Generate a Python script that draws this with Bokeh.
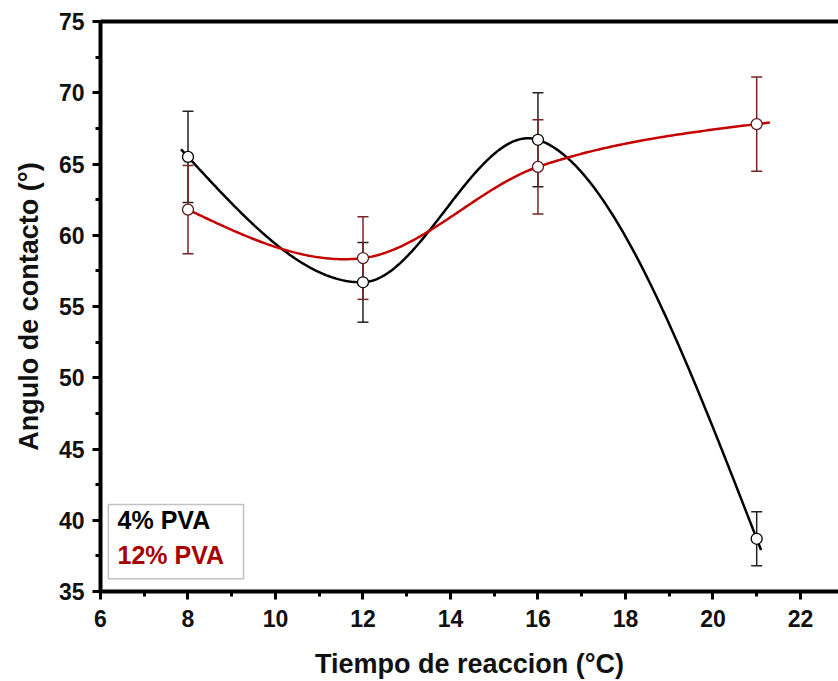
import numpy as np
from bokeh.plotting import figure
from bokeh.models import (Range1d, SingleIntervalTicker, FixedTicker, LinearAxis, Whisker,
                          ColumnDataSource, BoxAnnotation, Label, TeeHead)
from bokeh.embed import file_html
from bokeh.resources import INLINE

# ---- data ----
tiempo = [8, 12, 16, 21]
pva4 = [65.5, 56.7, 66.7, 38.7]
pva4_err = [3.2, 2.8, 3.3, 1.9]
pva12 = [61.8, 58.4, 64.8, 67.8]
pva12_err = [3.1, 2.9, 3.3, 3.3]
x_ticks_interval = 2
y_ticks_interval = 5
series_names = ["4% PVA", "12% PVA"]

FONT = "Liberation Sans"
RED_LINE = "#c40000"
RED_ERR = "#7a2525"
RED_TXT = "#a80000"


def smooth_curve(xs, ys, xe, tension=0.5):
    """Cardinal cubic Hermite curve through the data points."""
    xs = np.asarray(xs, float)
    ys = np.asarray(ys, float)
    n = len(xs)
    d = np.diff(ys) / np.diff(xs)
    m = np.zeros(n)
    for i in range(1, n - 1):
        m[i] = (1 - tension) * (ys[i + 1] - ys[i - 1]) / (xs[i + 1] - xs[i - 1])
    m[0] = 1.5 * d[0] - 0.5 * m[1]
    m[-1] = 1.5 * d[-1] - 0.5 * m[-2]
    xe = np.asarray(xe, float)
    out = np.empty_like(xe)
    for k, x in enumerate(xe):
        if x <= xs[0]:
            out[k] = ys[0] + m[0] * (x - xs[0])
            continue
        if x >= xs[-1]:
            out[k] = ys[-1] + m[-1] * (x - xs[-1])
            continue
        i = min(np.searchsorted(xs, x) - 1, n - 2)
        h = xs[i + 1] - xs[i]
        t = (x - xs[i]) / h
        h00 = 2 * t**3 - 3 * t**2 + 1
        h10 = t**3 - 2 * t**2 + t
        h01 = -2 * t**3 + 3 * t**2
        h11 = t**3 - t**2
        out[k] = h00 * ys[i] + h10 * h * m[i] + h01 * ys[i + 1] + h11 * h * m[i + 1]
    return out


p = figure(width=838, height=681, x_range=Range1d(6, 22.87), y_range=Range1d(35, 75),
           output_backend="svg", toolbar_location=None,
           min_border_left=100, min_border_right=0, min_border_top=21, min_border_bottom=90)
p.outline_line_color = None
p.grid.visible = False
p.background_fill_color = "white"
p.border_fill_color = "white"

# axes
for ax, interval in ((p.xaxis[0], x_ticks_interval), (p.yaxis[0], y_ticks_interval)):
    ax.ticker = SingleIntervalTicker(interval=interval, num_minor_ticks=2)
    ax.axis_line_width = 4
    ax.axis_line_color = "black"
    ax.major_tick_line_width = 3
    ax.major_tick_out = 8
    ax.major_tick_in = 0
    ax.minor_tick_line_width = 3
    ax.minor_tick_out = 5
    ax.minor_tick_in = 0
    ax.major_label_text_font = FONT
    ax.major_label_text_font_style = "bold"
    ax.major_label_text_font_size = "23px"
    ax.major_label_text_color = "#111111"
    ax.axis_label_text_font = FONT
    ax.axis_label_text_font_style = "bold"
    ax.axis_label_text_font_size = "27px"
    ax.axis_label_text_color = "#111111"

p.xaxis.axis_label = "Tiempo de reaccion (°C)"
p.yaxis.axis_label = "Angulo de contacto (°)"
p.xaxis.major_label_standoff = 10
p.xaxis.axis_label_standoff = 19
p.yaxis.major_label_standoff = 8
p.yaxis.axis_label_standoff = 12

top = LinearAxis(ticker=FixedTicker(ticks=[]), axis_line_width=4, axis_line_color="black",
                 major_tick_line_color=None, minor_tick_line_color=None,
                 major_label_text_font_size="0px", major_label_standoff=0)
p.add_layout(top, "above")

# error bars
src4 = ColumnDataSource(dict(x=tiempo, y=pva4,
                             lo=[v - e for v, e in zip(pva4, pva4_err)],
                             hi=[v + e for v, e in zip(pva4, pva4_err)]))
src12 = ColumnDataSource(dict(x=tiempo, y=pva12,
                              lo=[v - e for v, e in zip(pva12, pva12_err)],
                              hi=[v + e for v, e in zip(pva12, pva12_err)]))
for src, col in ((src4, "#222222"), (src12, RED_ERR)):
    w = Whisker(source=src, base="x", upper="hi", lower="lo", level="underlay",
                line_color=col, line_width=1.5,
                upper_head=TeeHead(size=11, line_color=col, line_width=1.5),
                lower_head=TeeHead(size=11, line_color=col, line_width=1.5))
    p.add_layout(w)

# smooth curves
xb = np.linspace(7.84, 21.1, 300)
p.line(xb, smooth_curve(tiempo, pva4, xb, tension=0.5), line_color="black", line_width=2.5)
xr = np.linspace(7.95, 21.3, 300)
p.line(xr, smooth_curve(tiempo, pva12, xr, tension=0.0), line_color=RED_LINE, line_width=2.5)

# markers
p.scatter("x", "y", source=src4, marker="circle", size=11, fill_color="white",
          line_color="black", line_width=1.3)
p.scatter("x", "y", source=src12, marker="circle", size=11, fill_color="white",
          line_color="#5a1c1c", line_width=1.3)

# legend box
p.add_layout(BoxAnnotation(left=6.18, right=9.27, bottom=35.9, top=41.1,
                           fill_color="white", fill_alpha=1.0,
                           line_color="#333333", line_width=1.5, level="overlay"))
p.add_layout(Label(x=6.39, y=39.07, text=series_names[0], text_font=FONT,
                   text_font_style="bold", text_font_size="25px", text_color="black",
                   level="overlay"))
p.add_layout(Label(x=6.39, y=36.6, text=series_names[1], text_font=FONT,
                   text_font_style="bold", text_font_size="25px", text_color=RED_TXT,
                   level="overlay"))

open("out.html", "w").write(file_html(p, INLINE))
